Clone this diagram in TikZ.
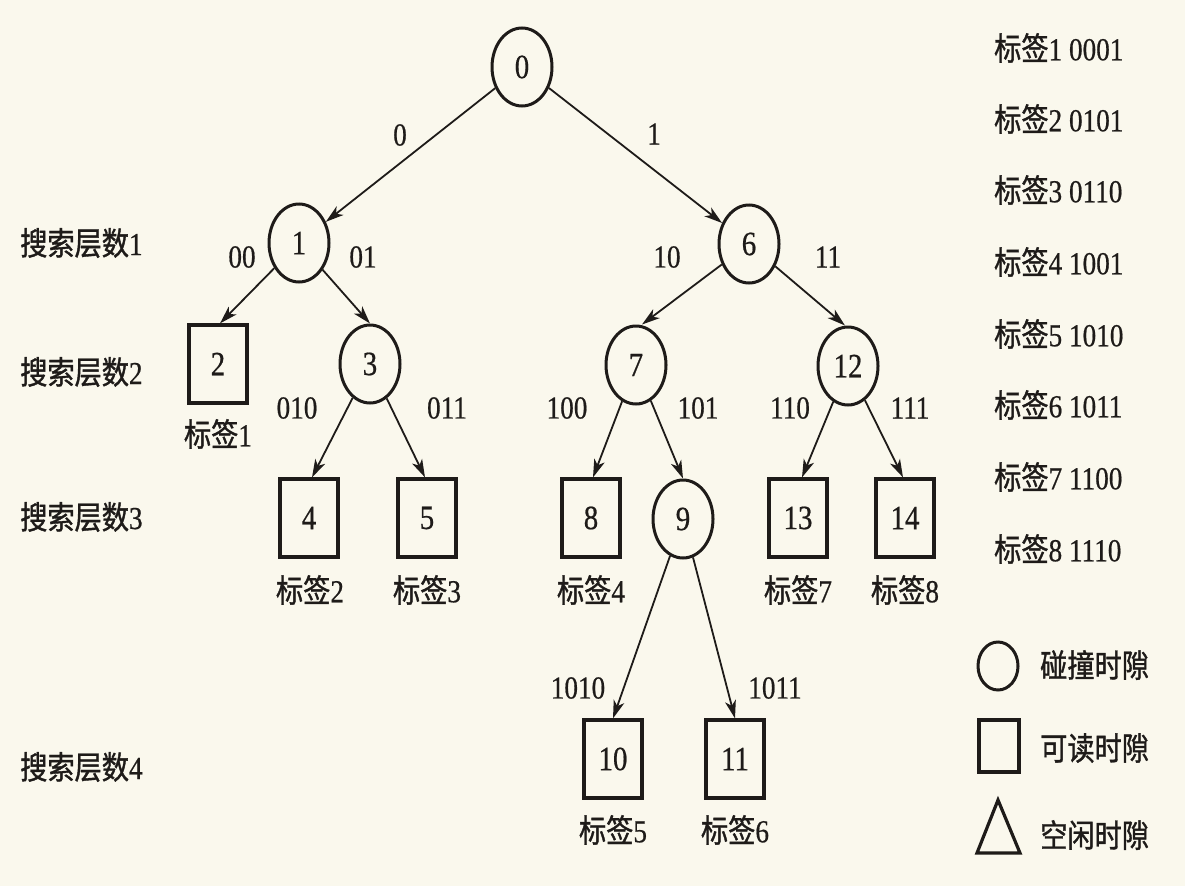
\documentclass[tikz,border=0pt]{standalone}
\usepackage{fontspec}
\setmainfont{Liberation Serif}[FakeStretch=0.85,FakeBold=0.6]
\newfontfamily\cjk{Noto Sans CJK SC}[FakeStretch=0.85,FakeBold=1.2]
\usetikzlibrary{shapes.geometric,arrows.meta}
\definecolor{bgc}{RGB}{250,248,237}
\definecolor{inkc}{RGB}{30,27,25}
\newcommand\txtfnt{\fontsize{32}{36}\selectfont}
\newcommand\nodefnt{\fontsize{34}{38}\selectfont}
\newcommand\tagtxt[1]{{\cjk 标签}#1}
\tikzset{
  coll/.style={ellipse, draw=inkc, line width=3pt, minimum width=60pt, minimum height=78pt, inner sep=0pt, text=inkc, font=\nodefnt},
  readbox/.style={rectangle, draw=inkc, line width=3.2pt, minimum width=58pt, minimum height=78pt, inner sep=0pt, text=inkc, font=\nodefnt},
  lbl/.style={text=inkc, font=\txtfnt, inner sep=0pt},
  edgearrow/.style={draw=inkc, line width=1.8pt, -{Stealth[length=18pt,width=11pt,inset=5pt]}},
}
\begin{document}
\begin{tikzpicture}[x=1pt,y=-1pt]
\useasboundingbox (0,0) rectangle (1185,886);
\fill[bgc] (0,0) rectangle (1185,886);

% tree nodes
\node[coll] (n0) at (522,67) {0};
\node[coll] (n1) at (299,243) {1};
\node[coll] (n6) at (749,244) {6};
\node[readbox] (n2) at (218,364) {2};
\node[coll] (n3) at (370,364) {3};
\node[coll] (n7) at (636,365) {7};
\node[coll] (n12) at (848,366) {12};
\node[readbox] (n4) at (309,518) {4};
\node[readbox] (n5) at (427,518) {5};
\node[readbox] (n8) at (591,518) {8};
\node[coll] (n9) at (683,519) {9};
\node[readbox] (n13) at (798,518) {13};
\node[readbox] (n14) at (905,518) {14};
\node[readbox] (n10) at (613,759) {10};
\node[readbox] (n11) at (735,759) {11};

% tag labels under boxes
\node[lbl] (t1) at (218,434) {\tagtxt{1}};
\node[lbl] (t2) at (310,590) {\tagtxt{2}};
\node[lbl] (t3) at (427,590) {\tagtxt{3}};
\node[lbl] (t4) at (591,590) {\tagtxt{4}};
\node[lbl] (t7) at (798,590) {\tagtxt{7}};
\node[lbl] (t8) at (905,590) {\tagtxt{8}};
\node[lbl] (t5) at (613,830) {\tagtxt{5}};
\node[lbl] (t6) at (735,830) {\tagtxt{6}};

% edges
\draw[edgearrow] (n0) -- (n1);
\draw[edgearrow] (n0) -- (n6);
\draw[edgearrow] (n1) -- ([xshift=2pt]n2.north);
\draw[edgearrow] (n1) -- (n3.north);
\draw[edgearrow] (n6) -- ([xshift=6pt]n7.north);
\draw[edgearrow] (n6) -- ([xshift=-3pt]n12.north);
\draw[edgearrow] (n3) -- ([xshift=3pt]n4.north);
\draw[edgearrow] (n3) -- ([xshift=-2pt]n5.north);
\draw[edgearrow] (n7) -- ([xshift=2pt]n8.north);
\draw[edgearrow] (n7) -- (n9.north);
\draw[edgearrow] (n12) -- ([xshift=4pt]n13.north);
\draw[edgearrow] (n12) -- ([xshift=-2pt]n14.north);
\draw[edgearrow] (n9) -- (n10.north);
\draw[edgearrow] (n9) -- (n11.north);

% edge labels
\node[lbl] (l0) at (400,135) {0};
\node[lbl] (l1) at (654,134) {1};
\node[lbl] (l00) at (242,257) {00};
\node[lbl] (l01) at (363,257) {01};
\node[lbl] (l10) at (667,257) {10};
\node[lbl] (l11) at (828,257) {11};
\node[lbl] (l010) at (297,408) {010};
\node[lbl] (l011) at (447,408) {011};
\node[lbl] (l100) at (567,408) {100};
\node[lbl] (l101) at (698,408) {101};
\node[lbl] (l110) at (790,408) {110};
\node[lbl] (l111) at (910,408) {111};
\node[lbl] (l1010) at (578,688) {1010};
\node[lbl] (l1011) at (775,688) {1011};

% search levels
\node[lbl, anchor=west] (s1) at (20,243) {{\cjk 搜索层数}1};
\node[lbl, anchor=west] (s2) at (20,372) {{\cjk 搜索层数}2};
\node[lbl, anchor=west] (s3) at (20,517) {{\cjk 搜索层数}3};
\node[lbl, anchor=west] (s4) at (20,767) {{\cjk 搜索层数}4};

% tag list
\node[lbl, anchor=west] (r1) at (994,48) {\tagtxt{1} 0001};
\node[lbl, anchor=west] (r2) at (994,119) {\tagtxt{2} 0101};
\node[lbl, anchor=west] (r3) at (994,190) {\tagtxt{3} 0110};
\node[lbl, anchor=west] (r4) at (994,262) {\tagtxt{4} 1001};
\node[lbl, anchor=west] (r5) at (994,334) {\tagtxt{5} 1010};
\node[lbl, anchor=west] (r6) at (994,405) {\tagtxt{6} 1011};
\node[lbl, anchor=west] (r7) at (994,477) {\tagtxt{7} 1100};
\node[lbl, anchor=west] (r8) at (994,549) {\tagtxt{8} 1110};

% legend
\node[ellipse, draw=inkc, line width=3pt, minimum width=40pt, minimum height=48pt, inner sep=0pt] (kc) at (998,666) {};
\node[rectangle, draw=inkc, line width=3.2pt, minimum width=40pt, minimum height=52pt, inner sep=0pt] (kr) at (999,746) {};
\draw[inkc, line width=3.2pt, line join=miter] (998,800) -- (1020,853) -- (977,853) -- cycle;
\node[lbl, anchor=west] (kct) at (1040,665) {\cjk 碰撞时隙};
\node[lbl, anchor=west] (krt) at (1040,748) {\cjk 可读时隙};
\node[lbl, anchor=west] (ktt) at (1040,835) {\cjk 空闲时隙};
\end{tikzpicture}
\end{document}
